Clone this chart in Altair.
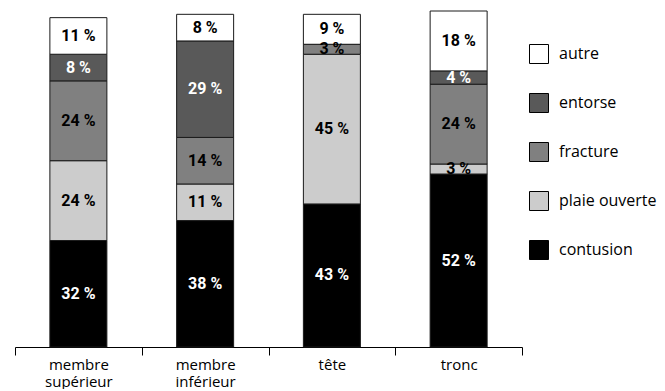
import altair as alt
import pandas as pd

# Body regions (x axis) and injury types (stacked from bottom to top)
categories = ["membre supérieur", "membre inférieur", "tête", "tronc"]
injuries = ["contusion", "plaie ouverte", "fracture", "entorse", "autre"]

# Share of each injury type per body region, in %
contusion = [32, 38, 43, 52]
plaie_ouverte = [24, 11, 45, 3]
fracture = [24, 14, 3, 24]
entorse = [8, 29, 0, 4]
autre = [11, 8, 9, 18]

fills = {
    "contusion": "#000000",
    "plaie ouverte": "#cccccc",
    "fracture": "#808080",
    "entorse": "#595959",
    "autre": "#ffffff",
}
dark_fills = {"contusion", "entorse"}

series = [contusion, plaie_ouverte, fracture, entorse, autre]
rows = []
for rank, (name, vals) in enumerate(zip(injuries, series)):
    for cat, v in zip(categories, vals):
        rows.append({
            "region": cat,
            "type": name,
            "rank": rank,
            "pct": v,
            "label": f"{v} %",
            "ink": "#ffffff" if name in dark_fills else "#000000",
        })
df = pd.DataFrame(rows)

legend_order = list(reversed(injuries))
text_font = "Open Sans"

base = (
    alt.Chart(df)
    .transform_stack(
        stack="pct",
        groupby=["region"],
        as_=["y0", "y1"],
        sort=[alt.SortField("rank", order="ascending")],
    )
    .transform_calculate(mid="(datum.y0 + datum.y1) / 2")
)

x_enc = alt.X(
    "region:N",
    sort=categories,
    title=None,
    scale=alt.Scale(paddingInner=0, paddingOuter=0),
    axis=alt.Axis(
        labelAngle=0,
        tickBand="extent",
        tickSize=8,
        tickColor="#000000",
        domainColor="#000000",
        labelFont=text_font,
        labelFontSize=15,
        labelColor="#000000",
        labelLineHeight=17,
        labelPadding=2,
        labelExpr="split(datum.label, ' ')",
    ),
)
y_scale = alt.Scale(domain=[0, 101], nice=False, zero=True)

bars = base.mark_bar(size=57, stroke="#1a1a1a", strokeWidth=1).encode(
    x=x_enc,
    y=alt.Y("y0:Q", scale=y_scale, axis=None),
    y2="y1:Q",
    color=alt.Color(
        "type:N",
        scale=alt.Scale(domain=legend_order, range=[fills[k] for k in legend_order]),
        legend=alt.Legend(
            title=None,
            orient="none",
            legendX=514,
            legendY=33,
            symbolType="square",
            symbolSize=361,
            symbolStrokeColor="#000000",
            symbolStrokeWidth=1,
            symbolOpacity=1,
            labelFont=text_font,
            labelFontSize=16,
            labelColor="#000000",
            labelOffset=10,
            rowPadding=25,
        ),
    ),
)

labels = base.transform_filter("datum.pct > 0").mark_text(
    font="Roboto", fontWeight="bold", fontSize=16, baseline="middle"
).encode(
    x=alt.X("region:N", sort=categories),
    y=alt.Y("mid:Q", scale=y_scale, axis=None),
    text="label:N",
    color=alt.Color("ink:N", scale=None),
)

chart = (
    alt.layer(bars, labels)
    .properties(width=507, height=336, padding={"left": 14, "top": 10, "right": 0, "bottom": 0})
    .configure_view(stroke=None)
)

chart.save("out.html", embed_options={"renderer": "svg", "actions": False})
